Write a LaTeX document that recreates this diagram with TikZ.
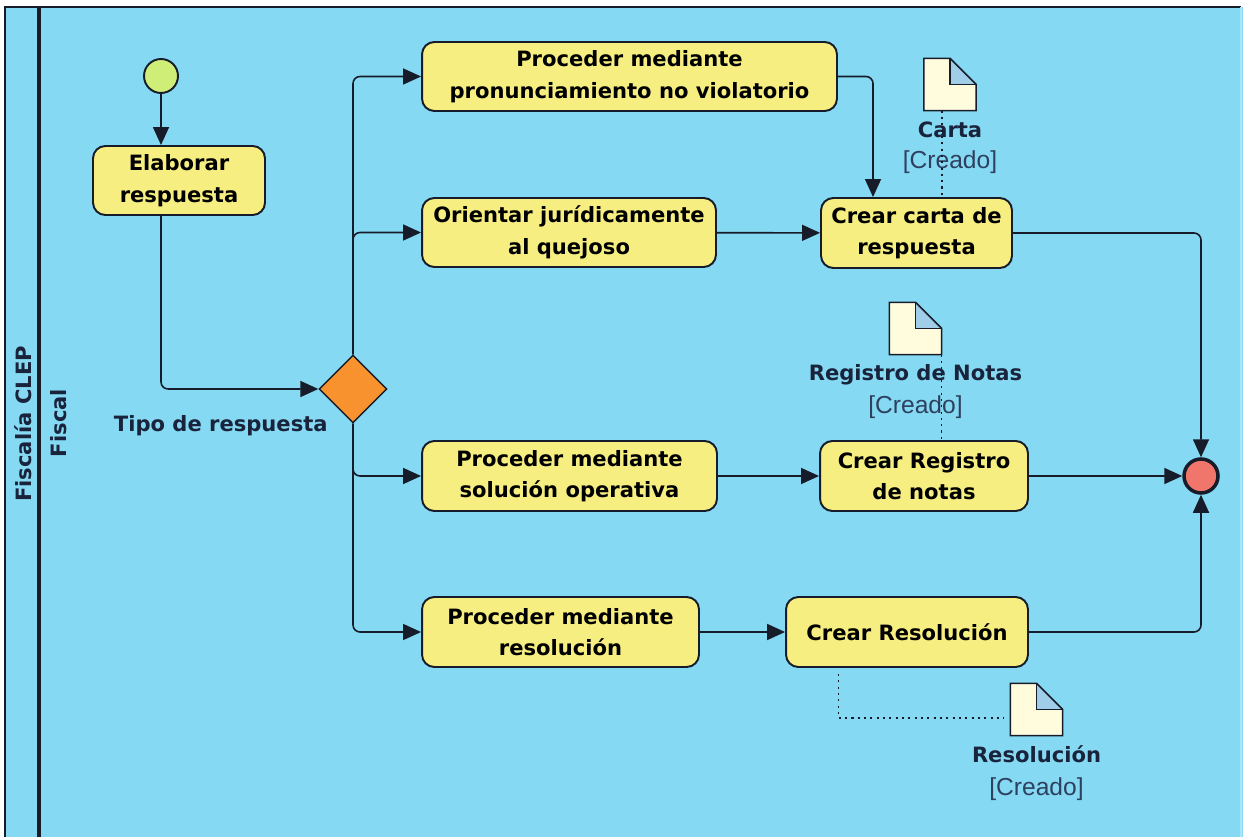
\documentclass[tikz,border=0pt]{standalone}
\usepackage{fontspec}
\setmainfont{DejaVu Sans}
\newfontfamily\creadofont{Liberation Sans}
\usetikzlibrary{arrows.meta}
\usetikzlibrary{positioning}
\usetikzlibrary{shapes.geometric}
\definecolor{lanebg}{RGB}{134,217,242}
\definecolor{actfill}{RGB}{246,238,128}
\definecolor{startfill}{RGB}{206,238,120}
\definecolor{endfill}{RGB}{240,118,108}
\definecolor{gatefill}{RGB}{247,146,46}
\definecolor{docfill}{RGB}{255,252,222}
\definecolor{foldfill}{RGB}{160,205,232}
\definecolor{inkcol}{RGB}{22,28,42}
\definecolor{labelcol}{RGB}{25,35,60}
\definecolor{creadocol}{RGB}{45,65,95}
\newcommand\docfold{0.52cm}

\begin{document}
\begin{tikzpicture}[
    x=0.02cm, y=-0.02cm,
    >={Triangle[width=3.2mm, length=3.6mm]},
    flow/.style = {
        ->,
        line width=0.9pt,
        draw=inkcol,
        rounded corners=4pt
      },
    action/.style = {
        rectangle,
        rounded corners=7pt,
        draw=inkcol,
        line width=1.1pt,
        fill=actfill,
        align=center,
        inner sep=0pt,
        font=\bfseries\fontsize{12}{18}\selectfont
      },
    startdot/.style = {
        circle,
        draw=inkcol,
        line width=1.1pt,
        fill=startfill,
        minimum size=0.68cm,
        inner sep=0pt
      },
    enddot/.style = {
        circle,
        draw=inkcol,
        line width=2pt,
        fill=endfill,
        minimum size=0.68cm,
        inner sep=0pt
      },
    gateway/.style = {
        diamond,
        draw=inkcol,
        line width=0.8pt,
        fill=gatefill,
        minimum width=1.36cm,
        minimum height=1.36cm,
        inner sep=0pt
      },
    artifact/.style = {
        rectangle,
        minimum width=1.03cm,
        minimum height=1.03cm,
        inner sep=0pt
      },
    docline/.style = {
        draw=inkcol,
        line width=0.9pt,
        line join=miter
      },
    doclabel/.style = {
        inner sep=0pt,
        text=labelcol,
        font=\bfseries\fontsize{12}{14}\selectfont
      },
    creado/.style = {
        inner sep=0pt,
        text=creadocol,
        font=\creadofont\fontsize{14}{16}\selectfont
      },
    assoc/.style = {
        draw=inkcol,
        line width=0.9pt,
        dash pattern=on 1.2pt off 2.4pt
      },
    ]
    \useasboundingbox (0,0) rectangle (1243,837);
    % pool and lane
    \fill[lanebg] (5,7) rectangle (1243,837);
    \draw[line width=1.1pt, draw=inkcol] (5,837) -- (5,7) -- (1241,7);
    \draw[line width=0.6pt, draw=lanebg!70!white] (1241,7) -- (1241,837);
    \draw[line width=1.8pt, draw=inkcol] (39,7) -- (39,837);
    \node (pool) [doclabel, rotate=90] at (23,424) {Fiscalía CLEP};
    \node (lane) [doclabel, rotate=90] at (59,423) {Fiscal};

    \node (startdot) [startdot] at (161,76) {};
    \node (elab) [action, minimum width=3.44cm, minimum height=1.38cm] at (179,180.5) {Elaborar\\respuesta};
    \node (gate) [gateway] at (353,389) {};
    \node (tipo) [doclabel, anchor=base east] at ([xshift=-0.5cm, yshift=-0.86cm]gate.center) {Tipo de respuesta};

    \node (pnv) [action, minimum width=8.3cm, minimum height=1.38cm] at (629.5,76.5) {Proceder mediante\\pronunciamiento no violatorio};
    \node (orient) [action, minimum width=5.88cm, minimum height=1.38cm] at (569,232.5) {Orientar jurídicamente\\al quejoso};
    \node (sol) [action, minimum width=5.9cm, minimum height=1.4cm] at (569.5,476) {Proceder mediante\\solución operativa};
    \node (reso) [action, minimum width=5.54cm, minimum height=1.4cm] at (560.5,632) {Proceder mediante\\resolución};

    \node (cbox) [action, minimum width=3.82cm, minimum height=1.4cm] at (916.5,233) {Crear carta de\\respuesta};
    \node (registro) [action, minimum width=4.16cm, minimum height=1.4cm] at (924,476) {Crear Registro\\de notas};
    \node (cresol) [action, minimum width=4.84cm, minimum height=1.4cm] at (907,632) {Crear Resolución};

    \node (final) [enddot] at (1201,476) {};

    % documents
    \node (dcarta) [artifact] at (950,84.5) {};
    \node (dreg) [artifact] at (915.5,328.5) {};
    \node (dres) [artifact] at (1036.5,709.5) {};
    \foreach \doc in {dcarta, dreg, dres} {
      \fill[docfill] (\doc.south west) -- (\doc.north west) -- ([xshift=-\docfold]\doc.north east) -- ([yshift=-\docfold]\doc.north east) -- (\doc.south east) -- cycle;
      \fill[foldfill] ([xshift=-\docfold]\doc.north east) -- ([yshift=-\docfold]\doc.north east) -- ([xshift=-\docfold, yshift=-\docfold]\doc.north east) -- cycle;
      \draw[docline] (\doc.south west) -- (\doc.north west) -- ([xshift=-\docfold]\doc.north east) -- ([yshift=-\docfold]\doc.north east) -- (\doc.south east) -- cycle;
      \draw[docline] ([xshift=-\docfold]\doc.north east) |- ([yshift=-\docfold]\doc.north east);
    }
    \node (lcarta) [doclabel, anchor=base] at ([yshift=-0.54cm]dcarta.south) {Carta};
    \node (ccarta) [creado, anchor=base] at ([yshift=-0.62cm]lcarta.base) {[Creado]};
    \node (lreg) [doclabel, anchor=base] at ([yshift=-0.52cm]dreg.south) {Registro de Notas};
    \node (creg) [creado, anchor=base] at ([yshift=-0.66cm]lreg.base) {[Creado]};
    \node (lres) [doclabel, anchor=base] at ([yshift=-0.54cm]dres.south) {Resolución};
    \node (cres) [creado, anchor=base] at ([yshift=-0.65cm]lres.base) {[Creado]};

    \coordinate (cartatie) at ([xshift=-0.16cm]dcarta.south);
    \coordinate (restie) at ([xshift=-1.37cm, yshift=-0.12cm]cresol.south);
    \draw[assoc] (cartatie) -- (cartatie |- cbox.north);
    \draw[assoc] (dreg.south east) -- (dreg.south east |- registro.north);
    \draw[assoc] (restie) |- ([xshift=-0.12cm, yshift=-0.17cm]dres.west);

    % control flow
    \draw[flow] (startdot) -- (startdot |- elab.north);
    \draw[flow] (startdot |- elab.south) |- (gate.west);
    \draw[flow] (gate.north) |- (pnv.west);
    \draw[flow] (gate.north) |- (orient.west);
    \draw[flow] (gate.south) |- (sol.west);
    \draw[flow] (gate.south) |- (reso.west);
    \draw[flow] (pnv.east) -| ([xshift=-0.87cm]cbox.north);
    \draw[flow] (orient) -- (cbox);
    \draw[flow] (sol) -- (registro);
    \draw[flow] (reso) -- (cresol);
    \draw[flow] (cbox.east) -| (final.north);
    \draw[flow] (registro) -- (final);
    \draw[flow] (cresol.east) -| (final.south);
  \end{tikzpicture}
\end{document}
